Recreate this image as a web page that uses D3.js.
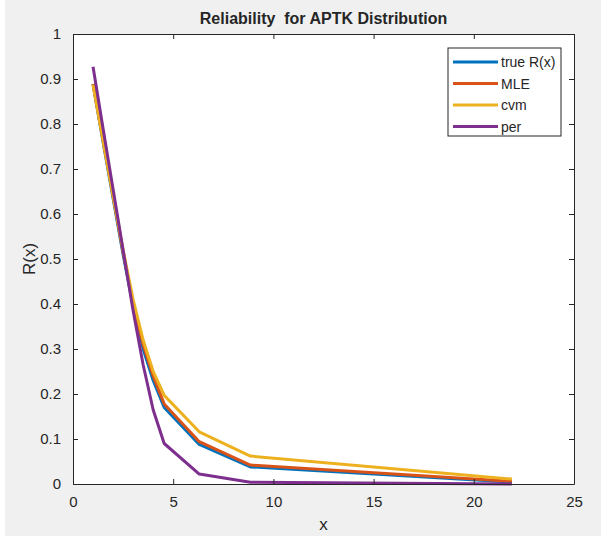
<!DOCTYPE html>
<html>
  <meta charset="utf-8" />
  <head>
    <script src="https://d3js.org/d3.v7.min.js"></script>
    <style>
      body {
        margin: 0;
        background: #ffffff;
      }
      text {
        font-family: "Liberation Sans", Arial, sans-serif;
        fill: #262626;
      }
    </style>
  </head>
  <body>
    <svg id="chart" width="605" height="540"></svg>

    <script>
      // values
      const xVals = [1, 1.5, 2, 2.5, 3, 3.5, 4, 4.55, 6.3, 8.85, 21.9];
      const trueR = [0.889, 0.76, 0.635, 0.51, 0.395, 0.3, 0.23, 0.17, 0.088, 0.038, 0.004];
      const mle = [0.889, 0.765, 0.64, 0.515, 0.4, 0.31, 0.24, 0.178, 0.094, 0.042, 0.006];
      const cvm = [0.887, 0.762, 0.64, 0.52, 0.41, 0.32, 0.25, 0.197, 0.116, 0.062, 0.011];
      const per = [0.927, 0.79, 0.655, 0.52, 0.385, 0.265, 0.165, 0.09, 0.022, 0.004, 0.0];

      const xTicks = [0, 5, 10, 15, 20, 25];
      const yTicks = [0, 0.1, 0.2, 0.3, 0.4, 0.5, 0.6, 0.7, 0.8, 0.9, 1];

      const seriesNames = ["true R(x)", "MLE", "cvm", "per"];
      const seriesColors = ["#0072BD", "#D95319", "#EDB120", "#7E2F8E"];
      const seriesValues = [trueR, mle, cvm, per];

      const svg = d3.select("#chart");

      // grey figure background
      svg
        .append("rect")
        .attr("x", 5)
        .attr("y", 0)
        .attr("width", 596)
        .attr("height", 536)
        .attr("fill", "#f0f0f0");

      const plotLeft = 73,
        plotRight = 574,
        plotTop = 34,
        plotBottom = 484;

      const xScale = d3.scaleLinear().domain([0, 25]).range([plotLeft, plotRight]);
      const yScale = d3.scaleLinear().domain([0, 1]).range([plotBottom, plotTop]);

      // white plot area
      svg
        .append("rect")
        .attr("x", plotLeft)
        .attr("y", plotTop)
        .attr("width", plotRight - plotLeft)
        .attr("height", plotBottom - plotTop)
        .attr("fill", "#ffffff");

      // lines
      const line = d3
        .line()
        .x((d) => xScale(d[0]))
        .y((d) => yScale(d[1]));

      seriesValues.forEach((vals, i) => {
        svg
          .append("path")
          .datum(xVals.map((x, j) => [x, vals[j]]))
          .attr("fill", "none")
          .attr("stroke", seriesColors[i])
          .attr("stroke-width", 3)
          .attr("stroke-linejoin", "round")
          .attr("d", line);
      });

      // axes, ticks pointing inward like matlab
      const axisColor = "#262626";

      const xAxis = svg
        .append("g")
        .attr("transform", `translate(0, ${plotBottom})`)
        .call(d3.axisBottom(xScale).tickValues(xTicks).tickSizeInner(-5).tickSizeOuter(0).tickPadding(12));
      const xAxisTop = svg
        .append("g")
        .attr("transform", `translate(0, ${plotTop})`)
        .call(d3.axisTop(xScale).tickValues(xTicks).tickSizeInner(-5).tickSizeOuter(0).tickFormat(""));
      const yAxis = svg
        .append("g")
        .attr("transform", `translate(${plotLeft}, 0)`)
        .call(d3.axisLeft(yScale).tickValues(yTicks).tickSizeInner(-5).tickSizeOuter(0).tickPadding(12).tickFormat(d3.format("")));
      const yAxisRight = svg
        .append("g")
        .attr("transform", `translate(${plotRight}, 0)`)
        .call(d3.axisRight(yScale).tickValues(yTicks).tickSizeInner(-5).tickSizeOuter(0).tickFormat(""));

      [xAxis, xAxisTop, yAxis, yAxisRight].forEach((g) => {
        g.selectAll("path").attr("stroke", axisColor);
        g.selectAll("line").attr("stroke", axisColor);
        g.selectAll("text")
          .attr("font-size", 15)
          .attr("font-family", "Liberation Sans, Arial, sans-serif")
          .attr("fill", "#333333");
      });

      // titles
      svg
        .append("text")
        .attr("x", (plotLeft + plotRight) / 2)
        .attr("y", 24)
        .attr("text-anchor", "middle")
        .attr("font-size", 16)
        .attr("font-weight", "bold")
        .attr("fill", "#262626")
        .text("Reliability\u00a0 for APTK Distribution");

      svg
        .append("text")
        .attr("x", (plotLeft + plotRight) / 2)
        .attr("y", 530)
        .attr("text-anchor", "middle")
        .attr("font-size", 17)
        .text("x");

      svg
        .append("text")
        .attr("transform", `translate(35, ${(plotTop + plotBottom) / 2}) rotate(-90)`)
        .attr("text-anchor", "middle")
        .attr("font-size", 17)
        .text("R(x)");

      // legend
      const legend = svg.append("g");
      legend
        .append("rect")
        .attr("x", 448)
        .attr("y", 48)
        .attr("width", 113)
        .attr("height", 88)
        .attr("fill", "#ffffff")
        .attr("stroke", axisColor)
        .attr("stroke-width", 1);

      seriesNames.forEach((name, i) => {
        const yy = 62 + i * 21.5;
        legend
          .append("line")
          .attr("x1", 453)
          .attr("x2", 498)
          .attr("y1", yy)
          .attr("y2", yy)
          .attr("stroke", seriesColors[i])
          .attr("stroke-width", 3);
        legend
          .append("text")
          .attr("x", 501)
          .attr("y", yy + 5)
          .attr("font-size", 14)
          .text(name);
      });
    </script>
  </body>
</html>
